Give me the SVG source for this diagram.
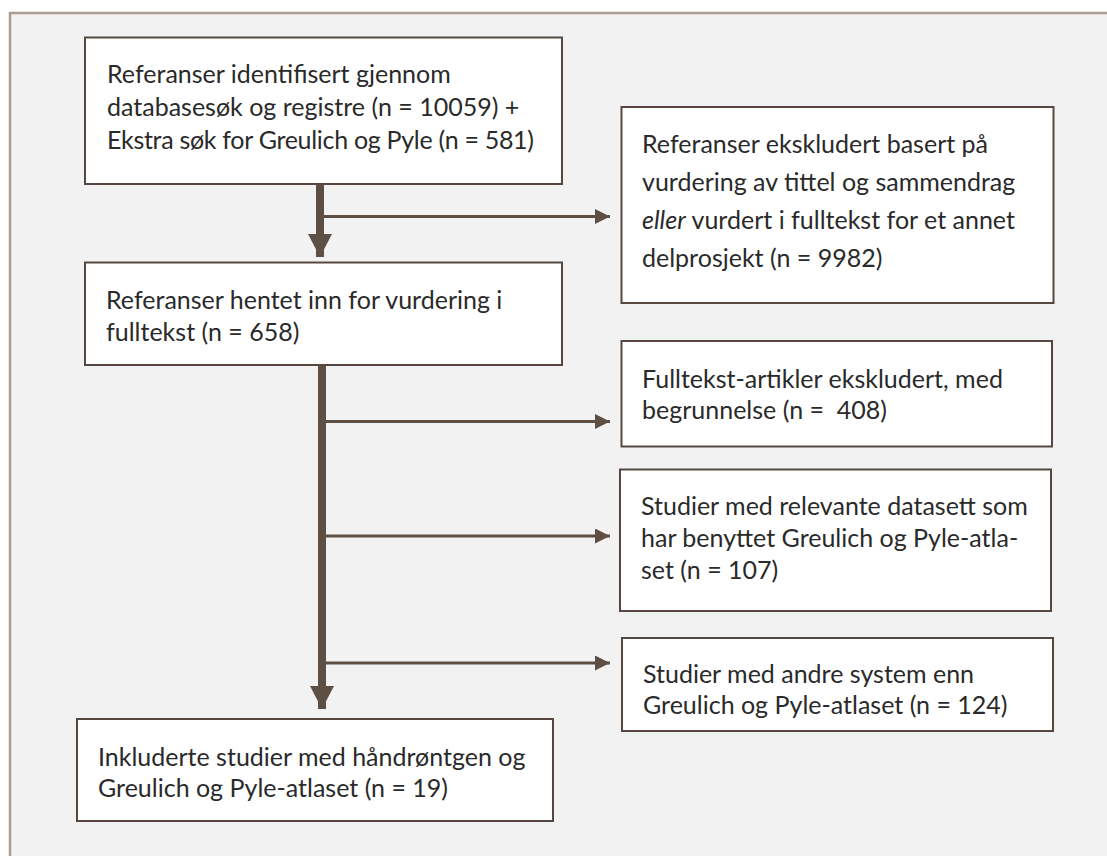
<svg xmlns="http://www.w3.org/2000/svg" width="1107" height="856" viewBox="0 0 1107 856">
<style>
.frame{fill:#f2f2f2;stroke:#ab9d94;stroke-width:2.5}
.box{fill:#ffffff;stroke:#564840;stroke-width:2}
.t{font-family:Lato,"Open Sans","Liberation Sans",sans-serif;font-size:25px;fill:#2a2a2a}
.thin{stroke:#5e4f45;stroke-width:3;fill:none}
.thick{stroke:#5e4f45;stroke-width:8;fill:none}
</style>
<defs>
<marker id="ah" markerUnits="userSpaceOnUse" markerWidth="16" markerHeight="16" refX="15" refY="7.5" orient="auto">
<path d="M0,0 L15,7.5 L0,15 z" fill="#5e4f45"/>
</marker>
<marker id="ahb" markerUnits="userSpaceOnUse" markerWidth="24" markerHeight="24" refX="23" refY="12" orient="auto">
<path d="M0,0 L23,12 L0,24 z" fill="#5e4f45"/>
</marker>
</defs>
<rect width="1107" height="856" fill="#ffffff"/>
<rect class="frame" x="10" y="13" width="1110" height="870"/>
<g id="connectors">
<line class="thick" x1="320" y1="185" x2="320" y2="257" marker-end="url(#ahb)"/>
<line class="thin" x1="320" y1="216.5" x2="610" y2="216.5" marker-end="url(#ah)"/>
<line class="thick" x1="322" y1="365" x2="322" y2="709" marker-end="url(#ahb)"/>
<line class="thin" x1="322" y1="421.5" x2="610" y2="421.5" marker-end="url(#ah)"/>
<line class="thin" x1="322" y1="536" x2="610" y2="536" marker-end="url(#ah)"/>
<line class="thin" x1="322" y1="663" x2="610" y2="663" marker-end="url(#ah)"/>
</g>
<g id="n1">
<rect class="box" x="85" y="37.5" width="477" height="146.5"/>
<text class="t" x="107" y="83">Referanser identifisert gjennom</text>
<text class="t" x="107" y="116">databasesøk og registre (n = 10059) +</text>
<text class="t" x="107" y="149" textLength="427" lengthAdjust="spacing">Ekstra søk for Greulich og Pyle (n = 581)</text>
</g>
<g id="n2">
<rect class="box" x="621.5" y="107" width="432" height="196"/>
<text class="t" x="642" y="153">Referanser ekskludert basert på</text>
<text class="t" x="642" y="191">vurdering av tittel og sammendrag</text>
<text class="t" x="642" y="228.5"><tspan font-style="italic">eller</tspan> vurdert i fulltekst for et annet</text>
<text class="t" x="642" y="266.5">delprosjekt (n = 9982)</text>
</g>
<g id="n3">
<rect class="box" x="85" y="262.5" width="477" height="102.5"/>
<text class="t" x="106" y="309">Referanser hentet inn for vurdering i</text>
<text class="t" x="106" y="341">fulltekst (n = 658)</text>
</g>
<g id="n4">
<rect class="box" x="621.5" y="341" width="430.5" height="105.5"/>
<text class="t" x="642" y="388">Fulltekst-artikler ekskludert, med</text>
<text class="t" x="642" y="419" style="white-space:pre">begrunnelse (n =  408)</text>
</g>
<g id="n5">
<rect class="box" x="620" y="469.5" width="431" height="141.5"/>
<text class="t" x="641" y="515">Studier med relevante datasett som</text>
<text class="t" x="641" y="547">har benyttet Greulich og Pyle-atla-</text>
<text class="t" x="641" y="579">set (n = 107)</text>
</g>
<g id="n6">
<rect class="box" x="622" y="638" width="431" height="93"/>
<text class="t" x="643" y="683">Studier med andre system enn</text>
<text class="t" x="643" y="714">Greulich og Pyle-atlaset (n = 124)</text>
</g>
<g id="n7">
<rect class="box" x="77" y="719" width="476" height="102"/>
<text class="t" x="98" y="766">Inkluderte studier med håndrøntgen og</text>
<text class="t" x="98" y="797">Greulich og Pyle-atlaset (n = 19)</text>
</g>
</svg>
